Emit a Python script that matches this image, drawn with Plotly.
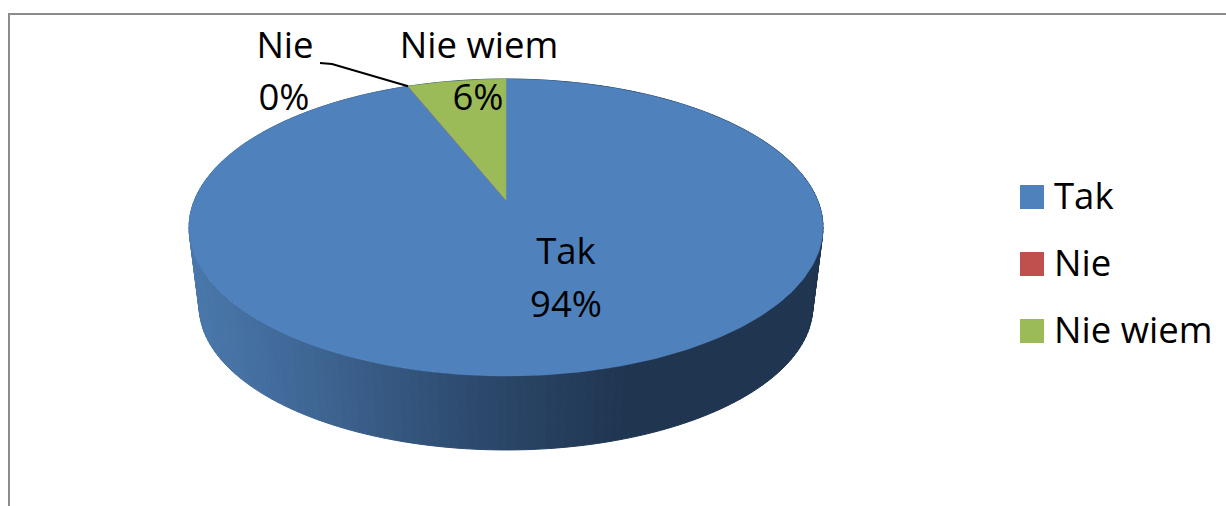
import math
import plotly.graph_objects as go

# ---- data ----
categories = ["Tak", "Nie", "Nie wiem"]
values = [94, 0, 6]

# ---- style ----
slice_colors = ["#4F81BD", "#C0504D", "#9BBB59"]
FONT = "Open Sans"
LABEL_SIZE = 36.5
LEGEND_SIZE = 36.5
W, H = 1226, 506

# ---- projection of the tilted disc to the page ----
CX, CY = 506.0, 200.0
A, B, K = 311.5, 143.4, 0.1852
FLOOR_SCALE, FLOOR_DROP = 0.968, 79.6


def project(theta, scale=1.0, drop=0.0):
    u, v = math.sin(theta), math.cos(theta)
    w = 1 + K * v
    return CX + scale * A * u / w, CY + drop - scale * B * v / w


side_stops = [(190, (74, 120, 172)), (300, (64, 104, 151)), (470, (45, 74, 110)),
              (630, (31, 53, 80)), (830, (31, 53, 80))]


def side_color(x):
    for (x0, c0), (x1, c1) in zip(side_stops, side_stops[1:]):
        if x <= x1:
            t = max(0.0, (x - x0) / (x1 - x0))
            return "rgb(%d,%d,%d)" % tuple(round(a + (b - a) * t) for a, b in zip(c0, c1))
    return "rgb(31,53,80)"


fig = go.Figure()

# side wall, drawn as narrow strips so the shading runs left to right
N = 240
for i in range(N):
    t0, t1 = 2 * math.pi * i / N, 2 * math.pi * (i + 1) / N
    a0, a1 = project(t0), project(t1)
    b0, b1 = project(t0, FLOOR_SCALE, FLOOR_DROP), project(t1, FLOOR_SCALE, FLOOR_DROP)
    col = side_color((a0[0] + a1[0] + b0[0] + b1[0]) / 4)
    fig.add_trace(go.Scatter(
        x=[a0[0], a1[0], b1[0], b0[0], a0[0]], y=[a0[1], a1[1], b1[1], b0[1], a0[1]],
        mode="lines", fill="toself", fillcolor=col, line=dict(color=col, width=1),
        hoverinfo="skip", showlegend=False))

# top face: one wedge per category, angles taken from the values
total = sum(values)
start = 0.0
for name, val, col in zip(categories, values, slice_colors):
    sweep = 2 * math.pi * val / total
    n = max(2, int(360 * val / total))
    pts = [project(start + sweep * j / n) for j in range(n + 1)]
    xs = [CX] + [p[0] for p in pts] + [CX]
    ys = [CY] + [p[1] for p in pts] + [CY]
    fig.add_trace(go.Scatter(x=xs, y=ys, mode="lines", fill="toself", fillcolor=col,
                             line=dict(color=col, width=0.5), name=name, showlegend=False,
                             hovertemplate=f"{name}: {val}%<extra></extra>"))
    start += sweep

# leader line of the zero slice
nie_end = project(2 * math.pi * (values[0] + values[1]) / total)
fig.add_trace(go.Scatter(x=[320, 332, nie_end[0]], y=[63, 64, nie_end[1]], mode="lines",
                         line=dict(color="black", width=2), hoverinfo="skip", showlegend=False))

# data labels
label_pos = {"Tak": (566, 255, 566, 308), "Nie": (285, 49, 284, 101), "Nie wiem": (479, 49, 478, 101)}
for name, val in zip(categories, values):
    x0, y0, x1, y1 = label_pos[name]
    fig.add_trace(go.Scatter(x=[x0, x1], y=[y0, y1], mode="text", text=[name, f"{val}%"],
                             textposition="middle center",
                             textfont=dict(family=FONT, size=LABEL_SIZE, color="black"),
                             hoverinfo="skip", showlegend=False))

# legend
legend_y = [197, 264, 331]
legend_text_y = [200, 267, 334]
for name, col, y, ty in zip(categories, slice_colors, legend_y, legend_text_y):
    fig.add_trace(go.Scatter(x=[1032], y=[y], mode="markers", hoverinfo="skip", showlegend=False,
                             marker=dict(symbol="square", size=24, color=col, line=dict(width=0))))
    fig.add_trace(go.Scatter(x=[1054], y=[ty], mode="text", text=[name], textposition="middle right",
                             textfont=dict(family=FONT, size=LEGEND_SIZE, color="black"),
                             hoverinfo="skip", showlegend=False))

frame = dict(type="line", line=dict(color="#8c8c8c", width=2), layer="below")
fig.update_layout(
    width=W, height=H, margin=dict(l=0, r=0, t=0, b=0),
    paper_bgcolor="white", plot_bgcolor="white", showlegend=False,
    xaxis=dict(range=[0, W], visible=False, fixedrange=True),
    yaxis=dict(range=[H, 0], visible=False, fixedrange=True),
    shapes=[dict(frame, x0=8, x1=W, y0=14, y1=14), dict(frame, x0=9, x1=9, y0=13, y1=H)],
)
fig.write_html("out.html", post_script="document.body.style.margin='0';document.body.style.overflow='hidden';",
               config=dict(displayModeBar=False))
